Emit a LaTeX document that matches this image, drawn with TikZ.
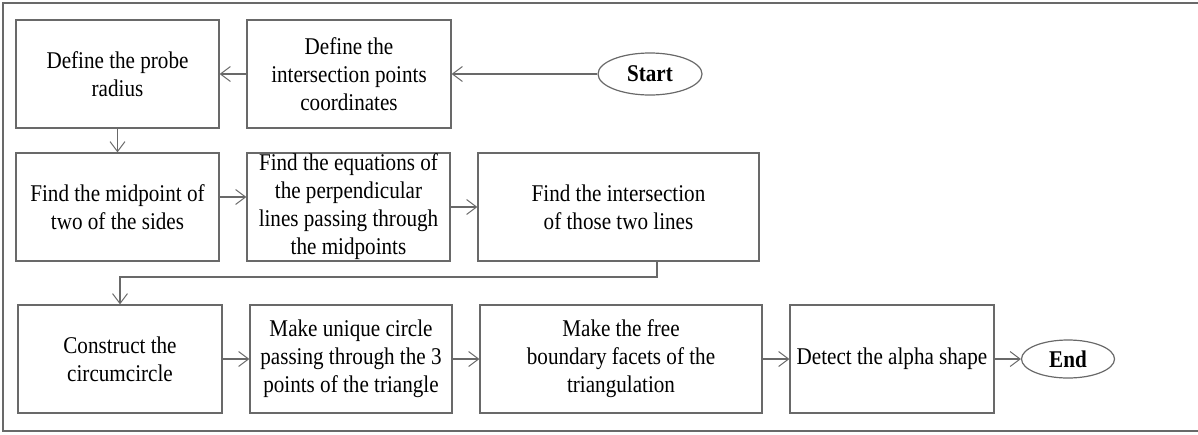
\documentclass[tikz,border=0pt]{standalone}
\usepackage{fontspec}
\setmainfont{Liberation Serif}[FakeStretch=0.88]
\usetikzlibrary{arrows.meta,shapes.geometric,calc}
\definecolor{edge}{RGB}{105,105,105}
\begin{document}
\begin{tikzpicture}[x=0.5pt,y=-0.5pt,
  box/.style={draw=edge,line width=0.6pt,rectangle,align=center,inner sep=0pt,
    font=\fontsize{12}{14}\selectfont},
  term/.style={draw=edge,line width=0.6pt,ellipse,inner sep=0pt,
    font=\fontsize{12}{14}\selectfont\bfseries},
  arr/.style={draw=edge,line width=0.6pt,-{Straight Barb[length=5pt,width=7.5pt,line width=0.5pt]}}]
\useasboundingbox (0,0) rectangle (1198,434);
\draw[edge,line width=0.7pt] (1205,3) -- (3,3) -- (3,431) -- (1205,431);
% row 1
\node[box,minimum width=101.5pt,minimum height=54pt] (A) at (117.5,74) {Define the probe\\radius};
\node[box,minimum width=102pt,minimum height=54pt] (B) at (349,74) {Define the\\intersection points\\coordinates};
\node[term,minimum width=52pt,minimum height=21pt] (S) at (650,74) {Start};
% row 2
\node[box,minimum width=101.5pt,minimum height=54pt] (C) at (117.5,207) {Find the midpoint of\\two of the sides};
\node[box,minimum width=101.5pt,minimum height=54pt] (D) at (348.5,207) {Find the equations of\\the perpendicular\\lines passing through\\the midpoints};
\node[box,minimum width=140.5pt,minimum height=54pt] (E) at (618.5,207) {Find the intersection\\of those two lines};
% row 3
\node[box,minimum width=102pt,minimum height=54pt] (F) at (120,359) {Construct the\\circumcircle};
\node[box,minimum width=101pt,minimum height=54pt] (G) at (351,359) {Make unique circle\\passing through the 3\\points of the triangle};
\node[box,minimum width=141pt,minimum height=54pt] (H) at (621,359) {Make the free\\boundary facets of the\\triangulation};
\node[box,minimum width=102pt,minimum height=54pt] (I) at (892,359) {Detect the alpha shape};
\node[term,minimum width=46.5pt,minimum height=19pt] (End) at (1068,359) {End};
% connectors
\coordinate (k) at (120,277);
\draw[arr] (S) -- (B);
\draw[arr] (B) -- (A);
\draw[arr] (A.south) -- (C.north);
\draw[arr] ([yshift=5pt]C.east) -- ([yshift=5pt]D.west);
\draw[arr] (D.east) -- (E.west);
\draw[arr] ([xshift=19.25pt]E.south) |- (k) -- (F.north);
\draw[arr] (F) -- (G);
\draw[arr] (G) -- (H);
\draw[arr] (H) -- (I);
\draw[arr] (I) -- (End);
\end{tikzpicture}
\end{document}
